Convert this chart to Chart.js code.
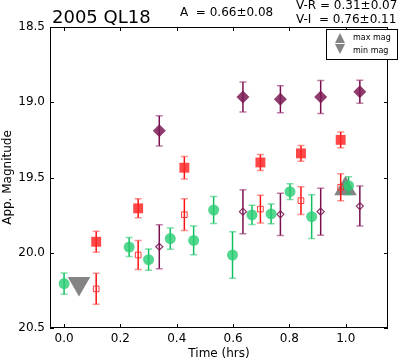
<!DOCTYPE html>
<html>
<head>
<meta charset="utf-8">
<script src="https://cdn.jsdelivr.net/npm/chart.js@4"></script>
<style>
  html, body { margin: 0; padding: 0; background: #fff; }
</style>
</head>
<body>
<canvas id="lc" width="401" height="362"></canvas>
<script>
const xTicks = [0.0, 0.2, 0.4, 0.6, 0.8, 1.0];
const yTicks = [18.5, 19.0, 19.5, 20.0, 20.5];

// filled diamonds
const rT = [0.338, 0.635, 0.768, 0.911, 1.050];
const rMag = [19.19, 18.965, 18.98, 18.965, 18.93];
const rErr = [0.10, 0.10, 0.09, 0.11, 0.077];

// filled squares
const vT = [0.114, 0.263, 0.427, 0.697, 0.841, 0.982];
const vMag = [19.927, 19.705, 19.435, 19.40, 19.34, 19.25];
const vErr = [0.07, 0.063, 0.075, 0.053, 0.052, 0.053];

// circles
const gT = [0.0, 0.231, 0.30, 0.377, 0.46, 0.531, 0.598, 0.667, 0.735, 0.802, 0.879, 1.01];
const gMag = [20.205, 19.962, 20.046, 19.906, 19.918, 19.716, 20.015, 19.749, 19.742, 19.594, 19.76, 19.554];
const gErr = [0.07, 0.063, 0.071, 0.07, 0.096, 0.089, 0.155, 0.064, 0.066, 0.053, 0.146, 0.059];

// open squares
const voT = [0.114, 0.263, 0.427, 0.697, 0.841, 0.982];
const voMag = [20.24, 20.015, 19.747, 19.71, 19.654, 19.565];
const voErr = [0.103, 0.097, 0.105, 0.092, 0.092, 0.09];

// open diamonds
const roT = [0.338, 0.635, 0.768, 0.911, 1.050];
const roMag = [19.96, 19.727, 19.745, 19.727, 19.69];
const roErr = [0.146, 0.146, 0.14, 0.156, 0.133];

const maxT = [0.999];
const maxMag = [19.575];
const minT = [0.053];
const minMag = [20.205];

const pts = (t, m) => t.map((v, i) => ({x: v, y: m[i]}));

const FONT = 'DejaVu Sans';

const errorBars = {
    id: 'errorBars',
    beforeDatasetDraw(chart, args) {
        const ds = chart.data.datasets[args.index];
        if (!ds.err) return;
        const ctx = chart.ctx;
        const y = chart.scales.y;
        ctx.save();
        ctx.lineWidth = 1.5;
        args.meta.data.forEach((p, i) => {
            const v = ds.data[i].y, e = ds.err[i];
            const y1 = y.getPixelForValue(v - e), y2 = y.getPixelForValue(v + e);
            ctx.strokeStyle = ds.errColor;
            ctx.beginPath();
            ctx.moveTo(p.x, y1);
            ctx.lineTo(p.x, y2);
            ctx.stroke();
            ctx.strokeStyle = ds.capColor;
            ctx.beginPath();
            ctx.moveTo(p.x - 3.5, y1); ctx.lineTo(p.x + 3.5, y1);
            ctx.moveTo(p.x - 3.5, y2); ctx.lineTo(p.x + 3.5, y2);
            ctx.stroke();
        });
        ctx.restore();
    }
};

const frame = {
    id: 'frame',
    afterDraw(chart) {
        const {ctx, chartArea: a, scales: {x, y}} = chart;
        ctx.save();
        ctx.strokeStyle = '#000';
        ctx.lineWidth = 1;
        ctx.strokeRect(a.left + 0.5, a.top + 0.5, a.right - a.left - 1, a.bottom - a.top - 1);
        ctx.beginPath();
        xTicks.forEach(v => {
            const px = Math.round(x.getPixelForValue(v)) + 0.5;
            ctx.moveTo(px, a.bottom); ctx.lineTo(px, a.bottom - 4);
            ctx.moveTo(px, a.top); ctx.lineTo(px, a.top + 4);
        });
        yTicks.forEach(v => {
            const py = Math.round(y.getPixelForValue(v)) + 0.5;
            ctx.moveTo(a.left, py); ctx.lineTo(a.left + 4, py);
            ctx.moveTo(a.right, py); ctx.lineTo(a.right - 4, py);
        });
        ctx.stroke();

        // texts above the plot
        ctx.fillStyle = '#000';
        ctx.textBaseline = 'alphabetic';
        ctx.textAlign = 'left';
        ctx.font = '18px "' + FONT + '"';
        ctx.fillText('2005 QL18', 52, 23);
        ctx.font = '12px "' + FONT + '"';
        ctx.fillText('A  = 0.66\u00b10.08', 180, 16);
        ctx.fillText('V-R = 0.31\u00b10.07', 296, 9);
        ctx.fillText('V-I  = 0.76\u00b10.11', 296, 23);

        // legend box
        const bx = 326, by = 29, bw = 71, bh = 30;
        ctx.fillStyle = '#fff';
        ctx.fillRect(bx, by, bw, bh);
        ctx.strokeRect(bx + 0.5, by + 0.5, bw, bh);
        ctx.fillStyle = 'rgba(110,110,110,0.85)';
        ctx.beginPath();
        ctx.moveTo(340, 33); ctx.lineTo(345, 43); ctx.lineTo(335, 43); ctx.closePath();
        ctx.fill();
        ctx.beginPath();
        ctx.moveTo(335, 44); ctx.lineTo(345, 44); ctx.lineTo(340, 54); ctx.closePath();
        ctx.fill();
        ctx.fillStyle = '#000';
        ctx.font = '8px "' + FONT + '"';
        ctx.textBaseline = 'middle';
        ctx.fillText('max mag', 353, 38);
        ctx.fillText('min mag', 353, 51);
        ctx.restore();
    }
};

new Chart('lc', {
    type: 'scatter',
    data: {
        datasets: [
            {
                label: 'R', data: pts(rT, rMag), err: rErr,
                errColor: '#7a0f4e', capColor: 'rgba(150,40,110,0.6)',
                pointStyle: 'rectRot', pointRadius: 6.5,
                backgroundColor: 'rgba(125,25,85,0.85)', borderColor: 'rgba(125,25,85,0.85)', pointBorderWidth: 0
            },
            {
                label: 'V', data: pts(vT, vMag), err: vErr,
                errColor: '#ff1010', capColor: 'rgba(255,60,60,0.55)',
                pointStyle: 'rect', pointRadius: 7,
                backgroundColor: 'rgba(255,40,40,0.85)', borderColor: 'rgba(255,40,40,0.85)', pointBorderWidth: 0
            },
            {
                label: 'g', data: pts(gT, gMag), err: gErr,
                errColor: '#10c060', capColor: 'rgba(40,200,110,0.6)',
                pointStyle: 'circle', pointRadius: 5.5,
                backgroundColor: 'rgba(40,205,115,0.8)', borderColor: 'rgba(40,205,115,0.8)', pointBorderWidth: 0
            },
            {
                label: 'Vo', data: pts(voT, voMag), err: voErr,
                errColor: '#ff1010', capColor: 'rgba(255,60,60,0.55)',
                pointStyle: 'rect', pointRadius: 4,
                backgroundColor: 'rgba(255,255,255,0)', borderColor: 'rgba(255,40,40,0.9)', pointBorderWidth: 1
            },
            {
                label: 'Ro', data: pts(roT, roMag), err: roErr,
                errColor: '#7a0f4e', capColor: 'rgba(150,40,110,0.6)',
                pointStyle: 'rectRot', pointRadius: 3.5,
                backgroundColor: 'rgba(255,255,255,0)', borderColor: 'rgba(125,25,85,0.9)', pointBorderWidth: 1.2
            },
            {
                label: 'max mag', data: pts(maxT, maxMag),
                pointStyle: 'triangle', pointRadius: 13,
                backgroundColor: 'rgba(110,110,110,0.85)', borderColor: 'rgba(110,110,110,0)', pointBorderWidth: 0
            },
            {
                label: 'min mag', data: pts(minT, minMag),
                pointStyle: 'triangle', pointRotation: 180, pointRadius: 13,
                backgroundColor: 'rgba(110,110,110,0.85)', borderColor: 'rgba(110,110,110,0)', pointBorderWidth: 0
            }
        ]
    },
    options: {
        responsive: false,
        animation: false,
        devicePixelRatio: 1,
        layout: { padding: { top: 27, right: 1, left: 0, bottom: 0 } },
        plugins: { legend: { display: false }, tooltip: { enabled: false } },
        scales: {
            x: {
                type: 'linear', min: -0.05, max: 1.15,
                afterBuildTicks: s => { s.ticks = xTicks.map(v => ({value: v})); },
                afterFit: s => { s.height = 34; },
                grid: { display: false, drawTicks: false },
                border: { display: false },
                ticks: { padding: 4, color: '#000', font: { family: FONT, size: 12 }, callback: v => v.toFixed(1) },
                title: { display: true, text: 'Time (hrs)', color: '#000', font: { family: FONT, size: 12 }, padding: { top: 0, bottom: 1 } }
            },
            y: {
                type: 'linear', min: 18.5, max: 20.5, reverse: true,
                afterBuildTicks: s => { s.ticks = yTicks.map(v => ({value: v})); },
                afterFit: s => { s.width = 50; },
                grid: { display: false, drawTicks: false },
                border: { display: false },
                ticks: { padding: 5, color: '#000', font: { family: FONT, size: 12 }, callback: v => v.toFixed(1) },
                title: { display: true, text: 'App. Magnitude', color: '#000', font: { family: FONT, size: 12 }, padding: { top: 1, bottom: 0 } }
            }
        }
    },
    plugins: [errorBars, frame]
});
</script>
</body>
</html>
